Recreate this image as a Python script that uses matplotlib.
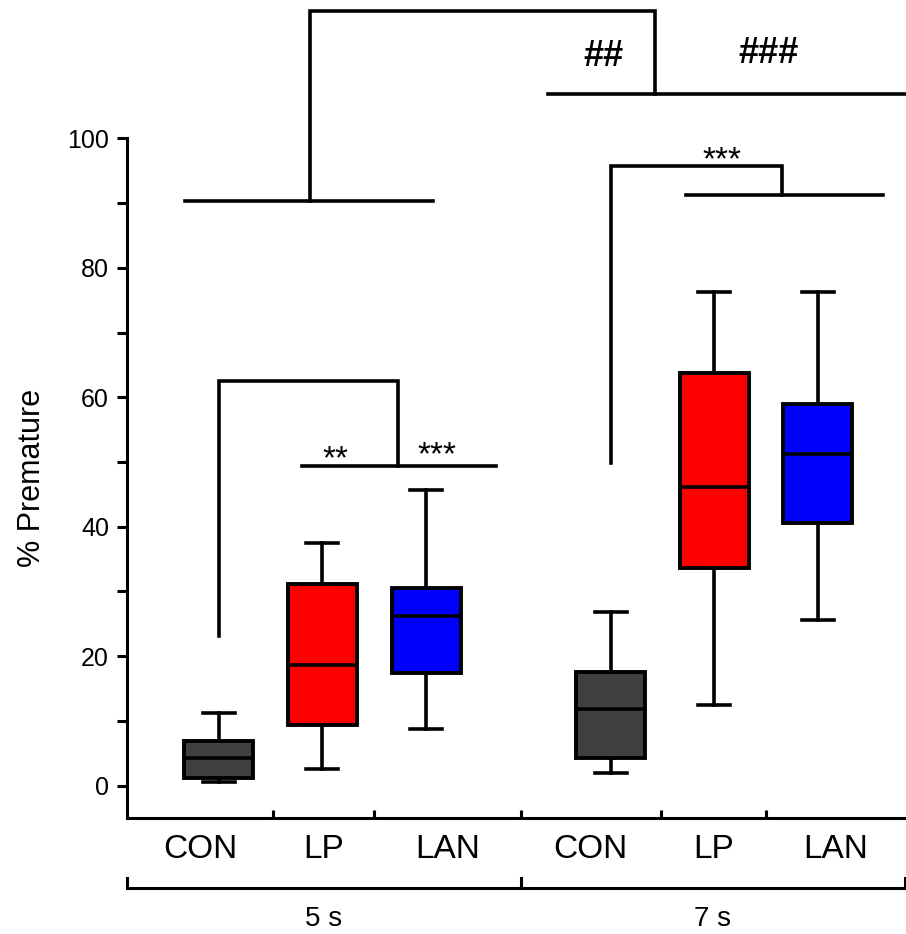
import matplotlib
matplotlib.use('Agg')
import matplotlib.pyplot as plt
from matplotlib.transforms import blended_transform_factory

plt.rcParams['font.family'] = ['Liberation Sans', 'DejaVu Sans']

# treatment groups and delays
labels = ['CON', 'LP', 'LAN', 'CON', 'LP', 'LAN']
delays = ['5 s', '7 s']
colors = ['#404040', '#ff0000', '#0000ff'] * 2

# box summaries (% premature responses)
whislo = [0.6, 2.5, 8.8, 1.9, 12.5, 25.6]
q1 = [1.2, 9.4, 17.4, 4.2, 33.6, 40.6]
med = [4.3, 18.6, 26.2, 11.8, 46.2, 51.3]
q3 = [6.9, 31.2, 30.6, 17.5, 63.8, 58.9]
whishi = [11.2, 37.5, 45.6, 26.8, 76.3, 76.3]

# comparison brackets (x, y in data coords) and their markers
brackets = [
    ([0.67, 3.07], [90.3, 90.3]),
    ([1.877, 1.877, 5.206, 5.206], [90.3, 119.6, 119.6, 106.9]),
    ([4.18, 7.62], [106.9, 106.9]),
    ([1.0, 1.0, 2.73, 2.73], [23.1, 62.5, 62.5, 49.4]),
    ([1.80, 3.67], [49.4, 49.4]),
    ([4.78, 4.78, 6.436, 6.436], [49.9, 95.8, 95.8, 91.3]),
    ([5.507, 7.41], [91.3, 91.3]),
]
marks = [('**', 2.125, 52.1), ('***', 3.105, 52.6), ('***', 5.855, 98.2),
         ('##', 4.715, 113.2), ('###', 6.302, 113.6)]

pos = [1, 2, 3, 4.78, 5.78, 6.78]
bounds = [0.115, 1.527, 2.499, 3.914, 5.263, 6.281, 7.62]
lw = 2.6

fig = plt.figure(figsize=(9.06, 9.34), dpi=100)
ax = fig.add_axes([0.1402, 0.1242, 0.8587, 0.7277])

stats = [dict(whislo=a, q1=b, med=c, q3=d, whishi=e, fliers=[])
         for a, b, c, d, e in zip(whislo, q1, med, q3, whishi)]
bp = ax.bxp(stats, positions=pos, widths=0.666, capwidths=0.31,
            patch_artist=True, showfliers=False,
            boxprops=dict(linewidth=2.8, edgecolor='black'),
            medianprops=dict(color='black', linewidth=lw),
            whiskerprops=dict(color='black', linewidth=lw),
            capprops=dict(color='black', linewidth=lw))
for patch, c in zip(bp['boxes'], colors):
    patch.set_facecolor(c)

ax.set_xlim(bounds[0], bounds[-1])
ax.set_ylim(-5, 100)
for s in ['top', 'right']:
    ax.spines[s].set_visible(False)
ax.spines['left'].set_linewidth(2.2)
ax.spines['bottom'].set_linewidth(2.2)

ax.set_yticks([0, 20, 40, 60, 80, 100])
ax.set_yticks([10, 30, 50, 70, 90], minor=True)
ax.tick_params(axis='y', which='both', direction='out', length=7, width=2.2,
               labelsize=18, pad=6)
ax.set_xticks(bounds[1:-1])
ax.set_xticks([], minor=True)
ax.set_xticklabels([])
ax.tick_params(axis='x', which='major', direction='in', length=6, width=2.2)

tr = blended_transform_factory(ax.transData, ax.transAxes)
for i, lab in enumerate(labels):
    xc = (bounds[i] + bounds[i + 1]) / 2
    ax.text(xc, -0.0589, lab, transform=tr, ha='center', va='baseline',
            fontsize=24)

# delay grouping line under the category labels
gy, gt = -0.103, -0.0883
ax.plot([bounds[0], bounds[-1]], [gy, gy], color='black', lw=2.2,
        transform=tr, clip_on=False, solid_capstyle='butt')
for xb in [bounds[0], bounds[3], bounds[-1]]:
    ax.plot([xb, xb], [gy, gt], color='black', lw=2.2, transform=tr,
            clip_on=False)
for j, d in enumerate(delays):
    xc = (bounds[3 * j] + bounds[3 * j + 3]) / 2
    ax.text(xc, -0.159, d, transform=tr, ha='center', va='baseline',
            fontsize=20)

for xs, ys in brackets:
    ax.plot(xs, ys, color='black', lw=lw, clip_on=False,
            solid_joinstyle='miter')
for txt, x, y in marks:
    if txt.startswith('*'):
        ax.text(x, y - 3.0, txt, ha='center', va='baseline', fontsize=24)
    else:
        ax.text(x, y - 2.0, txt, ha='center', va='baseline', fontsize=26,
                fontweight='bold')

fig.text(32 / 906, 1 - 478 / 934, '% Premature', rotation=90,
         ha='center', va='center', fontsize=22)

fig.savefig('out.png', dpi=100)
